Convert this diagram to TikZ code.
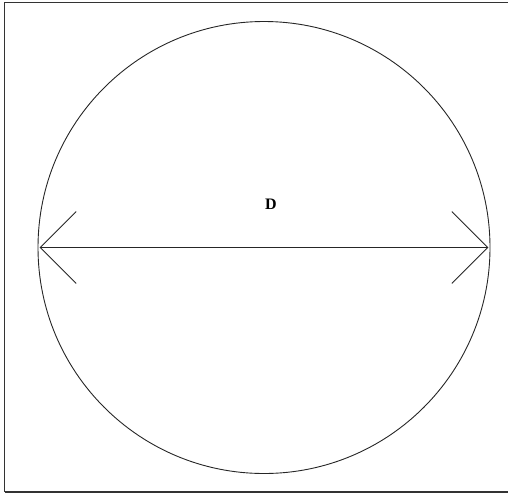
\documentclass[tikz,border=0pt]{standalone}
\usepackage{fontspec}
\setmainfont{Liberation Serif}
\usetikzlibrary{arrows.meta}
\begin{document}
\begin{tikzpicture}[x=1pt,y=-1pt,
  thinline/.style={draw=black!85,line width=0.9pt},
  frameline/.style={draw=black!80,line width=1.6pt},
  dimarrow/.style={thinline,{Straight Barb[length=36pt,width=72pt,line width=0.9pt]}-{Straight Barb[length=36pt,width=72pt,line width=0.9pt]}}]
\useasboundingbox (0,0) rectangle (508,493);
\draw[frameline] (4.5,492) -- (4.5,2.5) -- (508,2.5);
\draw[frameline] (4.5,492) -- (508,492);
\node[circle,thinline,minimum size=452pt,inner sep=0pt] (c) at (264,247.5) {};
\coordinate (l) at ([xshift=2pt]c.west);
\coordinate (r) at ([xshift=-2pt]c.east);
\draw[dimarrow] (l) -- (r);
\node[font=\fontsize{16}{16}\selectfont\bfseries] (d) at (271,204) {D};
\end{tikzpicture}
\end{document}
